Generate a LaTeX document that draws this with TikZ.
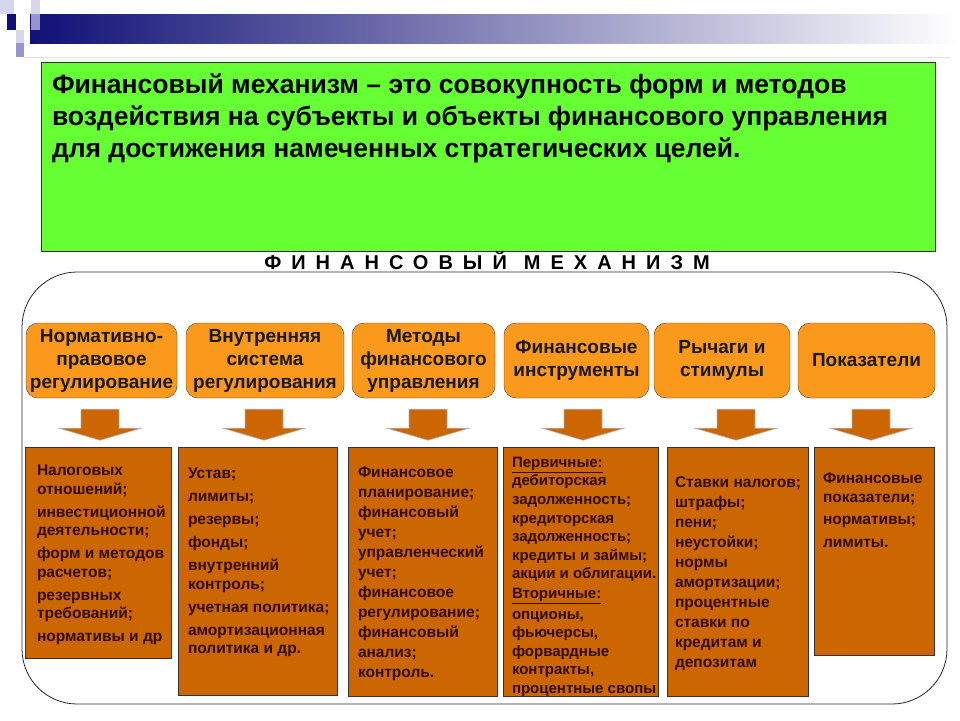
\documentclass[tikz,border=0pt]{standalone}
\usepackage{fontspec}
\setmainfont{Liberation Sans}
\newfontfamily\spacedfont[LetterSpace=50]{Liberation Sans}
\usetikzlibrary{positioning}
\definecolor{navy}{RGB}{16,16,118}
\definecolor{lavender}{RGB}{150,150,205}
\definecolor{palelav}{RGB}{214,214,236}
\definecolor{defgreen}{RGB}{102,255,51}
\definecolor{headorange}{RGB}{250,153,28}
\definecolor{bodyorange}{RGB}{204,102,0}
\definecolor{bodyink}{RGB}{50,12,0}
\begin{document}
\begin{tikzpicture}[x=1pt, y=-1pt,
    head/.style={draw=black!75, fill=headorange, rounded corners=12pt, align=center,
        inner sep=0pt, minimum height=75pt, text=black!90,
        font=\bfseries\fontsize{19}{23}\selectfont},
    body/.style={draw=black!80, fill=bodyorange, inner sep=0pt},
    bodytext/.style={inner sep=0pt, align=left, text=bodyink,
        font=\bfseries\fontsize{15.5}{18.5}\selectfont},
    blockarrow/.style={fill=bodyorange, draw=black!30, line width=0.6pt}]
    \useasboundingbox (0,0) rectangle (960,720);
    % header strip
    \shade[left color=navy, right color=white] (30,14) rectangle (958,43);
    \draw[black!12, line width=0.6pt] (24,57) -- (950,57);
    \fill[palelav] (0,0) rectangle (14,14);
    \fill[navy] (7,14) rectangle (16,30);
    \fill[palelav] (31,0) rectangle (40,14);
    \fill[lavender] (31,14) rectangle (40,30);
    \fill[palelav] (16,30) rectangle (24,43);
    \fill[lavender] (16,43) rectangle (24,57);
    % definition
    \node[draw=black!80, fill=defgreen, minimum width=894pt, minimum height=189pt,
        inner sep=0pt] (defbox) at (488,156.5) {};
    \node[below right=12pt and 11pt of defbox.north west, inner sep=0pt, align=left,
        font=\bfseries\fontsize{26.5}{32}\selectfont] (deftext)
        {Финансовый механизм – это совокупность форм и методов\\
         воздействия на субъекты и объекты финансового управления\\
         для достижения намеченных стратегических целей.};
    \node[font=\spacedfont\bfseries\fontsize{20}{20}\selectfont] (title) at (487,261)
        {ФИНАНСОВЫЙ\hspace{17pt}МЕХАНИЗМ};
    % outer frame
    \draw[black!85, line width=0.8pt, rounded corners=55pt] (22,272) rectangle (947,704);
    % heads
    \node[head, minimum width=151pt] (h1) at (101.5,360.5) {Нормативно-\\правовое\\регулирование};
    \node[head, minimum width=158pt] (h2) at (265,360.5) {Внутренняя\\система\\регулирования};
    \node[head, minimum width=143pt] (h3) at (423.5,360.5) {Методы\\финансового\\управления};
    \node[head, minimum width=145pt] (h4) at (576.5,360.5) {Финансовые\\инструменты};
    \node[head, minimum width=136pt] (h5) at (722,360.5) {Рычаги и\\стимулы};
    \node[head, minimum width=137pt] (h6) at (866.5,360.5) {Показатели};
    % arrows
    \foreach \h/\dx in {h1/-1.5, h2/-1, h3/4.5, h4/6.5, h5/14, h6/4.5}{
        \begin{scope}[shift={(\h.south)}, xshift=\dx]
            \filldraw[blockarrow] (-19,11) -- (19,11) -- (19,30) -- (41,30) -- (0,42)
                -- (-41,30) -- (-19,30) -- cycle;
        \end{scope}
    }
    % bodies
    \node[body, minimum width=146pt, minimum height=211pt] (b1) at (98,552.5) {};
    \node[body, minimum width=159pt, minimum height=248pt] (b2) at (257.5,571) {};
    \node[body, minimum width=149pt, minimum height=249pt] (b3) at (422.5,571.5) {};
    \node[body, minimum width=155pt, minimum height=249pt] (b4) at (580.5,571.5) {};
    \node[body, minimum width=141pt, minimum height=249pt] (b5) at (737.5,571.5) {};
    \node[body, minimum width=120pt, minimum height=208pt] (b6) at (874,551) {};
    \node[bodytext, below right=18pt and 12pt of b1.north west] (t1)
        {Налоговых\\отношений;\\[4.5pt]инвестиционной\\деятельности;\\[4.5pt]форм и методов\\
         расчетов;\\[4.5pt]резервных\\требований;\\[4.5pt]нормативы и др};
    \node[bodytext, below right=21pt and 10pt of b2.north west] (t2)
        {Устав;\\[4.5pt]лимиты;\\[4.5pt]резервы;\\[4.5pt]фонды;\\[4.5pt]внутренний\\контроль;\\[4.5pt]
         учетная политика;\\[4.5pt]амортизационная\\политика и др.};
    \node[bodytext, below right=20pt and 10pt of b3.north west,
        font=\bfseries\fontsize{15.5}{20}\selectfont] (t3)
        {Финансовое\\планирование;\\финансовый\\учет;\\управленческий\\учет;\\
         финансовое\\регулирование;\\финансовый\\анализ;\\контроль.};
    \node[bodytext, below right=10pt and 9pt of b4.north west,
        font=\bfseries\fontsize{15}{18.6}\selectfont] (t4)
        {\underline{Первичные:}\\дебиторская\\задолженность;\\кредиторская\\задолженность;\\
         кредиты и займы;\\акции и облигации.\\[1pt]\underline{Вторичные:}\\[2pt]опционы,\\фьючерсы,\\
         форвардные\\контракты,\\процентные свопы};
    \node[bodytext, below right=30pt and 8pt of b5.north west,
        font=\bfseries\fontsize{15.5}{20}\selectfont] (t5)
        {Ставки налогов;\\штрафы;\\пени;\\неустойки;\\нормы\\амортизации;\\процентные\\
         ставки по\\кредитам и\\депозитам};
    \node[bodytext, below right=26pt and 9pt of b6.north west] (t6)
        {Финансовые\\показатели;\\[4pt]нормативы;\\[4pt]лимиты.};
\end{tikzpicture}
\end{document}
